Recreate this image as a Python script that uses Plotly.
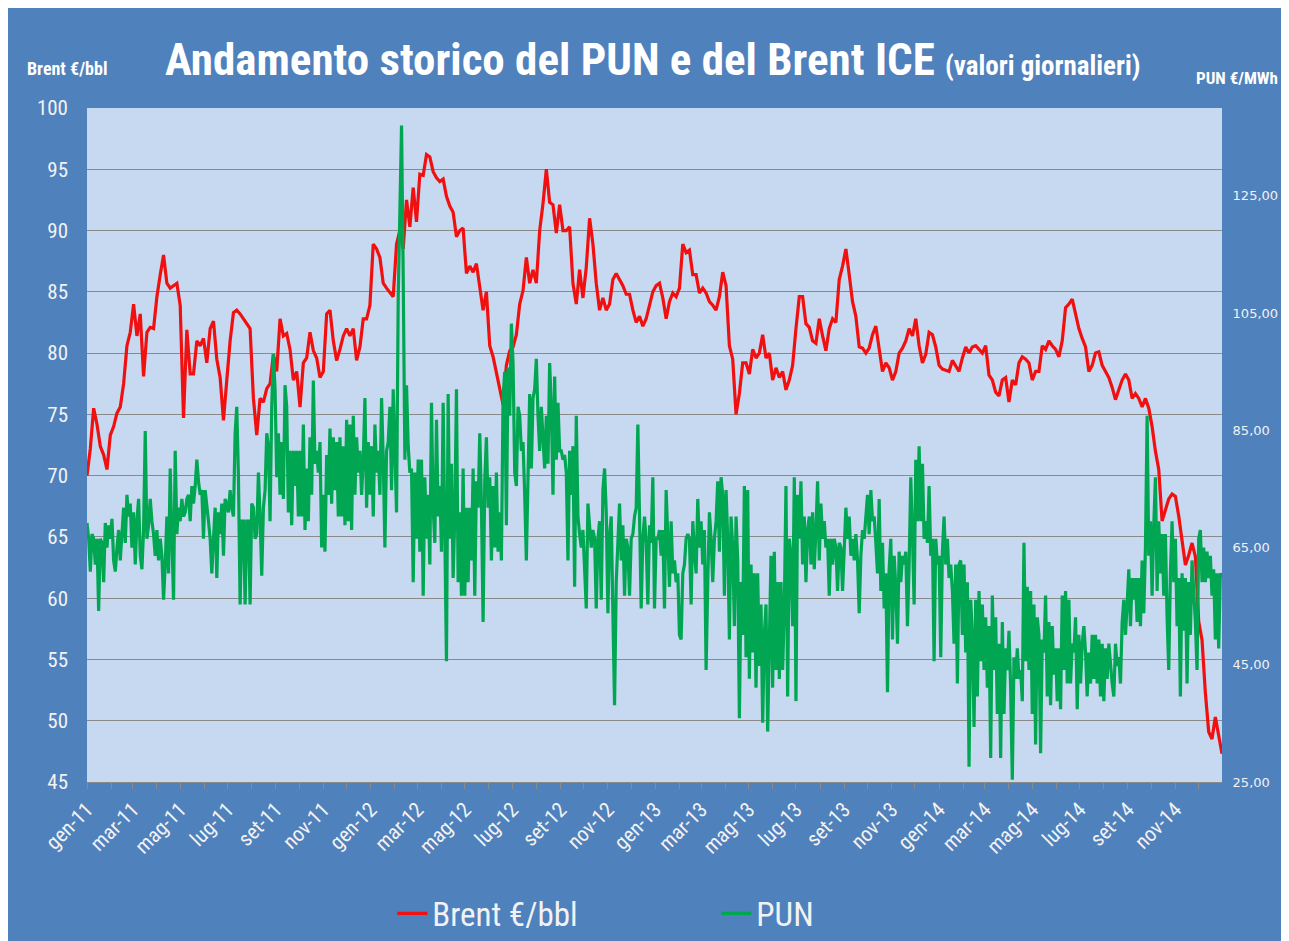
import pandas as pd
import plotly.graph_objects as go

# ---------------- data ----------------
brent = [
    70.0, 72.2, 75.5, 74.2, 72.4, 71.7, 70.5, 73.3, 74.0, 75.1,
    75.6, 77.5, 80.6, 81.7, 84.0, 81.4, 83.2, 78.1, 81.7, 82.1,
    82.0, 84.6, 86.4, 88.0, 85.7, 85.3, 85.5, 85.7, 83.9, 74.7,
    81.9, 78.3, 78.3, 81.0, 80.6, 81.2, 79.2, 82.0, 82.6, 79.5,
    78.0, 74.5, 77.8, 81.0, 83.3, 83.5, 83.2, 82.8, 82.3, 82.0,
    76.3, 73.3, 76.3, 76.0, 77.1, 77.5, 79.9, 78.5,
    82.8, 81.4, 81.6, 80.3, 77.8, 78.5, 75.6, 79.2, 79.6, 81.7,
    80.2, 79.6, 78.0, 78.5, 83.2, 83.5, 81.0, 79.4, 80.3, 81.4,
    82.0, 81.4, 82.0, 79.4, 80.5, 82.8, 82.8, 83.9, 88.9, 88.5,
    87.8, 85.7, 85.3, 84.9, 84.6, 88.9, 90.0, 88.5, 92.5, 90.3,
    93.5, 90.7, 94.6, 94.5, 96.2, 96.0, 94.8, 94.3, 94.0, 94.2,
    92.8, 92.0, 91.5, 89.5, 90.0, 90.2, 86.5,
    87.1, 86.6, 87.3, 85.3, 83.5, 85.0, 80.6, 79.7, 78.5, 77.1,
    75.8, 79.0, 80.2, 80.5, 81.5, 84.0, 85.1, 87.8, 85.7, 86.8,
    85.7, 90.0, 92.2, 95.0, 92.3, 92.1, 89.8, 92.1, 90.0, 90.0,
    90.3, 85.7, 84.0, 86.8, 84.5, 87.0, 91.0, 88.9, 85.7, 83.5,
    84.5, 83.5, 84.0, 86.0, 86.5, 86.0, 85.5, 84.8, 84.8, 83.5,
    82.5, 83.0, 82.2, 82.8, 84.0, 85.0, 85.5,
    85.7, 84.5, 82.8, 84.2, 84.9, 84.6, 85.3, 88.9, 88.2, 88.4,
    86.4, 86.4, 84.9, 85.3, 84.9, 84.2, 83.9, 83.5, 84.6, 86.6,
    85.5, 80.6, 79.5, 75.0, 76.7, 79.2, 79.2, 78.3, 80.3, 79.6,
    80.0, 81.5, 79.6, 80.0, 77.8, 78.8, 78.0, 78.5, 77.0, 77.8,
    79.0, 82.0, 84.6, 84.6, 82.4, 82.1, 81.0, 80.8, 82.8, 81.4,
    80.2, 82.0, 82.8, 82.5, 86.0, 87.1, 88.5,
    86.4, 84.2, 83.0, 80.5, 80.4, 80.0, 80.4, 81.5, 82.2, 80.5,
    78.5, 79.2, 78.8, 77.8, 78.5, 80.0, 80.4, 81.0, 82.0, 81.4,
    82.8, 80.6, 79.2, 79.9, 81.7, 81.5, 80.5, 79.0, 78.7, 78.6,
    78.5, 79.4, 78.9, 78.5, 79.6, 80.5, 80.0, 80.5, 80.6, 80.3,
    80.0, 80.6, 78.2, 77.8, 76.8, 76.5, 77.8, 78.0, 76.0, 77.8,
    77.4, 79.2, 79.7, 79.5, 79.2, 77.8, 78.5,
    78.5, 80.6, 80.3, 81.0, 80.6, 80.3, 79.7, 81.0, 83.7, 84.0,
    84.4, 83.2, 82.0, 81.2, 80.5, 78.5, 79.0, 80.0, 80.1, 79.0,
    78.5, 78.0, 77.2, 76.2, 77.0, 77.8, 78.3, 77.8, 76.3, 76.7,
    76.3, 75.6, 76.3, 75.5, 74.0, 72.0, 70.5, 66.3, 67.2, 68.1,
    68.5, 68.3, 66.7, 64.9, 62.7, 63.5, 64.5, 63.4, 58.1, 56.6,
    52.3, 49.1, 48.5, 50.3, 48.7, 47.3,
]

pun = [
    69.2, 66.5, 60.9, 67.3, 66.5, 62.1, 66.5, 54.2, 66.5, 65.8,
    59.1, 69.2, 65.0, 68.8, 66.5, 69.9, 62.8, 60.9, 65.0, 68.0,
    62.8, 67.3, 71.8, 65.8, 74.0, 70.3, 72.5, 65.0, 71.0, 62.1,
    69.5, 73.3, 63.6, 61.3, 68.0, 84.9, 66.5, 68.8, 73.3, 69.5,
    67.3, 63.6, 68.0, 62.8, 66.5, 63.6, 56.1, 62.1, 70.3, 60.6,
    78.5, 66.5, 56.1, 81.5, 67.3, 71.8, 69.5, 73.3, 70.3, 71.0,
    73.3, 74.0, 69.5, 75.5, 72.5, 75.5, 80.0, 76.3, 74.0, 74.8,
    66.5, 74.8, 72.5, 69.5, 66.5, 60.6, 66.5, 71.8, 59.8, 71.0,
    67.3, 72.5, 63.6, 73.3, 72.5, 71.0, 74.8, 71.8, 70.3, 84.5,
    89.0, 77.0, 55.3, 69.5, 69.5, 55.3, 69.5, 69.5, 55.3, 72.5,
    71.8, 66.5, 67.3, 77.8, 70.3, 60.2, 71.8, 74.8, 84.5, 82.3,
    69.5, 89.0, 98.0, 92.0, 77.0, 84.5,
    74.0, 83.0, 73.3, 92.7, 89.0, 71.0, 81.5, 68.8, 81.5, 75.5,
    81.5, 70.3, 81.5, 70.3, 86.0, 68.0, 78.5, 69.5, 83.8, 74.0,
    93.5, 79.3, 81.5, 77.8, 83.0, 65.0, 74.0, 64.3, 80.8, 74.0,
    85.3, 72.5, 83.8, 74.8, 83.0, 70.3, 83.8, 70.3, 82.3, 68.8,
    86.8, 69.5, 86.0, 68.0, 87.5, 74.0, 83.8, 77.8, 81.5, 74.0,
    80.0, 90.5, 71.8, 83.0, 74.0, 82.3, 70.3, 86.0, 77.8, 81.5,
    74.0, 90.5, 80.0, 65.0, 81.5, 83.0, 89.0, 74.8, 92.0, 79.3,
    71.0, 107.7, 121.2, 137.0, 111.5, 80.0, 92.7, 82.3, 77.8, 78.5,
    59.1, 77.8, 66.5, 80.0, 64.3, 80.0, 56.8, 77.0, 66.5, 74.0,
    62.1, 89.7, 71.8, 65.8, 86.8, 70.3, 75.5, 64.3, 89.7, 71.8,
    45.6, 91.2, 66.5, 79.3, 59.8, 70.3, 92.0, 59.1, 71.0, 56.8,
    78.5, 56.8, 71.8, 59.1,
    71.8, 62.8, 78.5, 56.8, 76.3, 71.8, 84.5, 72.5, 52.3, 76.3,
    83.8, 71.8, 77.0, 62.8, 75.5, 65.0, 77.8, 64.3, 71.0, 62.8,
    90.5, 95.0, 68.8, 95.7, 87.5, 103.2, 96.5, 77.8, 75.5, 89.0,
    87.5, 81.5, 83.0, 74.0, 62.8, 77.0, 91.2, 78.5, 90.5, 92.0,
    97.2, 87.5, 81.5, 89.0, 84.5, 78.5, 87.5, 79.3, 96.5, 89.0,
    74.0, 94.2, 80.0, 89.7, 81.5, 81.5, 80.0, 80.8, 77.8, 62.8,
    81.5, 74.0, 82.3, 58.3, 87.5, 70.3, 67.3, 65.0, 68.0, 62.1,
    54.6, 72.5, 68.8, 65.0, 68.0, 66.5, 54.6, 66.5, 69.5, 56.1,
    74.8, 78.5, 71.0, 53.8, 67.3, 70.3, 53.8, 38.1, 59.1, 66.5,
    72.5, 62.8, 68.8, 56.8, 66.5, 65.0, 56.8, 66.5, 67.3, 70.3,
    71.8, 86.0, 68.0, 54.6, 66.5, 70.3, 65.8, 55.3, 68.8, 65.8,
    77.0, 54.6, 66.5, 66.5,
    68.0, 63.6, 68.0, 54.6, 74.8, 66.5, 58.3, 69.5, 60.6, 62.8,
    59.1, 60.6, 50.1, 49.3, 60.6, 62.1, 66.5, 67.3, 66.5, 55.3,
    69.5, 64.3, 60.6, 73.3, 65.0, 69.5, 62.1, 68.0, 44.1, 59.1,
    71.0, 66.5, 59.1, 66.5, 69.5, 76.3, 64.3, 77.0, 74.0, 56.8,
    74.8, 66.5, 49.3, 70.3, 65.0, 51.6, 70.3, 62.8, 35.9, 59.1,
    50.1, 75.5, 46.3, 74.8, 42.6, 62.1, 47.1, 60.6, 41.1, 60.6,
    44.8, 55.3, 35.1, 50.1, 55.3, 33.6, 49.3, 63.6, 41.1, 64.3,
    44.1, 59.1, 42.6, 59.1, 44.1, 54.6, 75.5, 39.6, 66.5, 63.6,
    51.6, 77.0, 38.8, 74.0, 66.5, 76.3, 62.1, 70.3, 59.1, 68.0,
    70.3, 62.1, 71.0, 61.3, 68.0, 76.3, 62.8, 72.5, 66.5, 69.5,
    65.0, 66.5, 56.8, 66.5, 62.1, 66.5, 65.0, 57.6, 65.8, 65.0,
    57.6, 66.5, 71.8, 66.5,
    70.3, 63.6, 66.5, 62.8, 67.3, 62.8, 53.8, 63.6, 68.0, 66.5,
    70.3, 74.0, 67.3, 74.8, 69.5, 70.3, 65.8, 60.6, 73.3, 57.6,
    65.8, 54.6, 60.6, 40.3, 61.3, 66.5, 49.3, 63.6, 58.3, 48.6,
    64.3, 59.1, 63.6, 62.1, 64.3, 51.6, 62.1, 77.0, 67.3, 55.3,
    80.0, 69.5, 82.3, 69.5, 79.3, 66.5, 69.5, 65.8, 75.5, 63.6,
    66.5, 45.6, 66.5, 62.1, 63.6, 46.3, 64.3, 70.3, 62.1, 66.5,
    59.8, 62.1, 57.6, 48.6, 62.1, 41.8, 62.1, 62.8, 50.1, 62.1,
    47.1, 59.1, 27.6, 56.1, 50.1, 34.4, 56.1, 39.6, 57.6, 45.6,
    55.3, 44.1, 53.1, 41.1, 51.6, 29.1, 56.8, 44.1, 53.1, 36.6,
    48.6, 29.1, 52.3, 36.6, 47.8, 44.1, 50.8, 41.1, 25.4, 46.3,
    42.6, 47.8, 42.6, 44.1, 38.8, 65.8, 45.6, 58.3, 44.1, 57.6,
    36.6, 55.3, 31.4, 53.1,
    50.1, 29.9, 49.3, 47.1, 56.8, 39.6, 52.3, 38.1, 51.6, 43.3,
    47.8, 38.8, 47.8, 37.4, 56.8, 44.1, 57.6, 41.8, 56.1, 41.8,
    48.6, 47.1, 53.1, 37.4, 50.1, 41.8, 48.6, 51.6, 47.1, 39.6,
    47.1, 41.8, 50.1, 42.6, 50.1, 41.8, 49.3, 39.6, 48.6, 38.8,
    47.8, 42.6, 48.6, 44.8, 41.8, 39.6, 48.6, 44.8, 46.3, 41.8,
    52.3, 56.1, 50.1, 55.3, 61.3, 51.6, 59.8, 56.1, 59.8, 52.3,
    59.8, 51.6, 62.8, 53.8, 65.0, 87.5, 63.6, 69.5, 56.8, 68.8,
    77.0, 57.6, 69.5, 60.6, 67.3, 56.8, 67.3, 53.1, 44.1, 60.6,
    69.5, 59.1, 66.5, 51.6, 59.8, 39.6, 60.6, 50.8, 59.8, 41.8,
    59.1, 50.1, 62.8, 57.6, 52.3, 44.1, 66.5, 68.0, 59.1, 65.0,
    59.1, 64.3, 59.8, 63.6, 56.8, 61.3, 49.3, 60.6, 47.8, 60.6,
    59.8,
]

period_start = "2011-01-01"
period_end = "2014-12-31"

tick_dates = [
    "2011-01-01", "2011-03-01", "2011-05-01", "2011-07-01", "2011-09-01", "2011-11-01",
    "2012-01-01", "2012-03-01", "2012-05-01", "2012-07-01", "2012-09-01", "2012-11-01",
    "2013-01-01", "2013-03-01", "2013-05-01", "2013-07-01", "2013-09-01", "2013-11-01",
    "2014-01-01", "2014-03-01", "2014-05-01", "2014-07-01", "2014-09-01", "2014-11-01",
]
tick_labels = [
    "gen-11", "mar-11", "mag-11", "lug-11", "set-11", "nov-11",
    "gen-12", "mar-12", "mag-12", "lug-12", "set-12", "nov-12",
    "gen-13", "mar-13", "mag-13", "lug-13", "set-13", "nov-13",
    "gen-14", "mar-14", "mag-14", "lug-14", "set-14", "nov-14",
]
left_ticks = [45, 50, 55, 60, 65, 70, 75, 80, 85, 90, 95, 100]
right_ticks = [25, 45, 65, 85, 105, 125]
right_labels = ["25,00", "45,00", "65,00", "85,00", "105,00", "125,00"]

brent_dates = pd.date_range(period_start, period_end, periods=len(brent))
pun_dates = pd.date_range(period_start, period_end, periods=len(pun))

# ---------------- styling ----------------
BG = "#4F81BD"
PLOT_BG = "#C6D9F0"
GRID = "#8A8A8A"
RED = "#F01010"
GREEN = "#00A651"
NARROW = "Liberation Sans Narrow, Arial Narrow, Roboto Condensed, sans-serif"
TXT = "#F2F2F2"

fig = go.Figure()
fig.add_trace(go.Scatter(
    x=brent_dates, y=brent, name="Brent €/bbl", mode="lines",
    line=dict(color=RED, width=3.2), yaxis="y",
))
fig.add_trace(go.Scatter(
    x=pun_dates, y=pun, name="PUN", mode="lines",
    line=dict(color=GREEN, width=3.2), yaxis="y2",
))

fig.update_layout(
    width=1281, height=933,
    paper_bgcolor=BG, plot_bgcolor=PLOT_BG,
    margin=dict(l=79, r=67, t=100, b=159, autoexpand=False),
    showlegend=True,
    legend=dict(
        orientation="h", x=0.269, xanchor="left", y=-0.195, yanchor="middle",
        font=dict(family=NARROW, size=33, color=TXT),
        bgcolor="rgba(0,0,0,0)", entrywidth=279, entrywidthmode="pixels",
        itemwidth=30,
    ),
    xaxis=dict(
        type="date", range=[period_start, period_end],
        tickmode="array", tickvals=tick_dates, ticktext=tick_labels,
        tickangle=-45, tickfont=dict(family=NARROW, size=21, color=TXT),
        ticks="outside", ticklen=6, tickcolor=GRID,
        minor=dict(dtick="M1", tick0="2011-01-01", ticks="outside", ticklen=6,
                   tickcolor=GRID, showgrid=False),
        showgrid=False, showline=True, linecolor=GRID, linewidth=1,
        zeroline=False,
    ),
    yaxis=dict(
        range=[45, 100], tickmode="array", tickvals=left_ticks,
        tickfont=dict(family=NARROW, size=21, color=TXT),
        showgrid=True, gridcolor=GRID, gridwidth=1, zeroline=False,
        showline=False, ticks="", ticklabelstandoff=18,
    ),
    yaxis2=dict(
        range=[25, 140], overlaying="y", side="right",
        tickmode="array", tickvals=right_ticks, ticktext=right_labels,
        tickfont=dict(family="DejaVu Sans, sans-serif", size=13, color=TXT),
        showgrid=False, zeroline=False, showline=False,
        ticks="outside", ticklen=7, tickcolor=BG,
    ),
    annotations=[
        dict(text="<b>Andamento storico del PUN e del Brent ICE</b> "
                  "<b><span style='font-size:27px'>(valori giornalieri)</span></b>",
             xref="paper", yref="paper", x=0.498, y=1.072,
             xanchor="center", yanchor="middle", showarrow=False,
             font=dict(family=NARROW, size=45, color="white")),
        dict(text="<b>Brent €/bbl</b>", xref="paper", yref="paper",
             x=-0.0546, y=1.059, xanchor="left", yanchor="middle", showarrow=False,
             font=dict(family=NARROW, size=18, color="white")),
        dict(text="<b>PUN €/MWh</b>", xref="paper", yref="paper",
             x=0.975, y=1.045, xanchor="left", yanchor="middle", showarrow=False,
             font=dict(family=NARROW, size=17, color="white")),
    ],
)

fig.write_html("out.html")
